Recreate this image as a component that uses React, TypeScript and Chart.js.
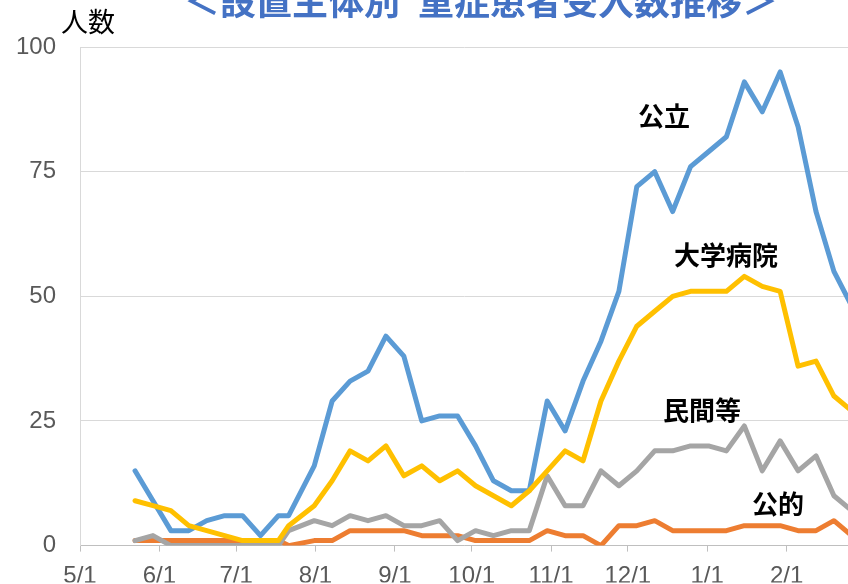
import { useEffect, useRef } from 'react';
import { Chart, registerables } from 'chart.js';

Chart.register(...registerables);

const TITLE = '＜設置主体別\u2002重症患者受入数推移＞';
const Y_UNIT = '人数';

// observation dates (weekly, with one extra mid-July report)
const dates = [
  '2020-05-22', '2020-05-29', '2020-06-05', '2020-06-12', '2020-06-19', '2020-06-26',
  '2020-07-03', '2020-07-10', '2020-07-17', '2020-07-21', '2020-07-31', '2020-08-07',
  '2020-08-14', '2020-08-21', '2020-08-28', '2020-09-04', '2020-09-11', '2020-09-18',
  '2020-09-25', '2020-10-02', '2020-10-09', '2020-10-16', '2020-10-23', '2020-10-30',
  '2020-11-06', '2020-11-13', '2020-11-20', '2020-11-27', '2020-12-04', '2020-12-11',
  '2020-12-18', '2020-12-25', '2021-01-01', '2021-01-08', '2021-01-15', '2021-01-22',
  '2021-01-29', '2021-02-05', '2021-02-12', '2021-02-19', '2021-02-26',
];

// 公立
const koritsu = [
  15, 9, 3, 3, 5, 6, 6, 2, 6, 6, 16, 29, 33, 35, 42, 38, 25, 26, 26, 20, 13,
  11, 11, 29, 23, 33, 41, 51, 72, 75, 67, 76, 79, 82, 93, 87, 95, 84, 67, 55, 48,
];
// 公的
const koteki = [
  1, 1, 1, 1, 1, 1, 1, 1, 1, 0, 1, 1, 3, 3, 3, 3, 2, 2, 2, 1, 1,
  1, 1, 3, 2, 2, 0, 4, 4, 5, 3, 3, 3, 3, 4, 4, 4, 3, 3, 5, 2,
];
// 民間等
const minkan = [
  1, 2, 0, 0, 0, 0, 0, 0, 0, 3, 5, 4, 6, 5, 6, 4, 4, 5, 1, 3, 2,
  3, 3, 14, 8, 8, 15, 12, 15, 19, 19, 20, 20, 19, 24, 15, 21, 15, 18, 10, 7,
];
// 大学病院
const daigaku = [
  9, 8, 7, 4, 3, 2, 1, 1, 1, 4, 8, 13, 19, 17, 20, 14, 16, 13, 15, 12, 10,
  8, 11, 15, 19, 17, 29, 37, 44, 47, 50, 51, 51, 51, 54, 52, 51, 36, 37, 30, 27,
];

const seriesNames = ['公立', '公的', '民間等', '大学病院'];

const monthTickDates = [
  '2020-05-01', '2020-06-01', '2020-07-01', '2020-08-01', '2020-09-01',
  '2020-10-01', '2020-11-01', '2020-12-01', '2021-01-01', '2021-02-01',
];
const monthTickLabels = ['5/1', '6/1', '7/1', '8/1', '9/1', '10/1', '11/1', '12/1', '1/1', '2/1'];
const axisStart = '2020-05-01';
const axisEnd = '2021-02-25';
const yMin = 0;
const yMax = 100;
const yStep = 25;

const ORIGIN = (() => {
  const [y, m, d] = axisStart.split('-').map(Number);
  return Date.UTC(y, m - 1, d);
})();
const dayOf = (s: string) => {
  const [y, m, d] = s.split('-').map(Number);
  return (Date.UTC(y, m - 1, d) - ORIGIN) / 86400000;
};

const tickDays = monthTickDates.map(dayOf);

const labelFont = "'Liberation Sans', Arial, sans-serif";
const cjkFont = "'Noto Sans CJK JP', sans-serif";

const textPlugin = {
  id: 'textPlugin',
  afterDraw(chart: any) {
    const ctx = chart.ctx;
    ctx.save();
    // title (partly above the canvas)
    ctx.fillStyle = '#4472C4';
    ctx.font = `bold 36px ${cjkFont}`;
    ctx.textAlign = 'center';
    ctx.textBaseline = 'alphabetic';
    ctx.fillText(TITLE, 481, 15);

    // unit label
    ctx.fillStyle = '#000000';
    ctx.font = `27px ${cjkFont}`;
    ctx.textBaseline = 'middle';
    ctx.fillText(Y_UNIT, 88, 22);

    // series labels
    ctx.font = `bold 26px ${cjkFont}`;
    const pos: Record<string, [number, number]> = {
      '公立': [664, 116],
      '大学病院': [726, 255],
      '民間等': [702, 410],
      '公的': [778, 504],
    };
    seriesNames.forEach((n) => {
      const p = pos[n];
      ctx.fillText(n, p[0], p[1]);
    });
    ctx.restore();
  },
};

const toPoints = (vals: number[]) => dates.map((d, i) => ({ x: dayOf(d) + 0.5, y: vals[i] }));

export default function App() {
  const ref = useRef<HTMLCanvasElement | null>(null);
  useEffect(() => {
    if (!ref.current) return;
    const common = {
      pointRadius: 0,
      borderWidth: 5,
      fill: false,
      tension: 0,
      borderJoinStyle: 'round' as const,
      borderCapStyle: 'round' as const,
    };
    const chart = new Chart(ref.current, {
      type: 'line',
      data: {
        datasets: [
          { ...common, label: seriesNames[0], data: toPoints(koritsu), borderColor: '#5B9BD5', backgroundColor: '#5B9BD5', order: 4 },
          { ...common, label: seriesNames[1], data: toPoints(koteki), borderColor: '#ED7D31', backgroundColor: '#ED7D31', order: 3 },
          { ...common, label: seriesNames[2], data: toPoints(minkan), borderColor: '#A5A5A5', backgroundColor: '#A5A5A5', order: 2 },
          { ...common, label: seriesNames[3], data: toPoints(daigaku), borderColor: '#FFC000', backgroundColor: '#FFC000', order: 1 },
        ],
      },
      options: {
        responsive: false,
        animation: false,
        devicePixelRatio: 1,
        layout: { padding: { top: 47, right: 0, bottom: 0, left: 0 } },
        plugins: {
          legend: { display: false },
          tooltip: { enabled: false },
          title: { display: false },
        },
        scales: {
          x: {
            type: 'linear',
            min: dayOf(axisStart),
            max: dayOf(axisEnd),
            afterBuildTicks: (scale: any) => {
              scale.ticks = tickDays.map((v) => ({ value: v }));
            },
            afterFit: (scale: any) => {
              scale.height = 37;
            },
            ticks: {
              autoSkip: false,
              maxRotation: 0,
              minRotation: 0,
              padding: 10,
              color: '#595959',
              font: { family: labelFont, size: 24 },
              callback: (v: any) => {
                const i = tickDays.indexOf(Number(v));
                return i >= 0 ? monthTickLabels[i] : '';
              },
            },
            grid: {
              drawOnChartArea: false,
              drawTicks: true,
              tickLength: 6,
              color: '#BFBFBF',
            },
            border: { display: true, color: '#BFBFBF', width: 1 },
          },
          y: {
            type: 'linear',
            min: yMin,
            max: yMax,
            afterFit: (scale: any) => {
              scale.width = 80;
            },
            ticks: {
              stepSize: yStep,
              padding: 24,
              color: '#595959',
              font: { family: labelFont, size: 24 },
            },
            grid: {
              drawTicks: false,
              color: '#D9D9D9',
              lineWidth: 1,
            },
            border: { display: true, color: '#D9D9D9', width: 1 },
          },
        },
      } as any,
      plugins: [textPlugin],
    });
    return () => chart.destroy();
  }, []);

  return (
    <div style={{ position: 'fixed', left: 0, top: 0, width: 848, height: 584, overflow: 'hidden', background: '#fff' }}>
      <canvas ref={ref} width={848} height={584} style={{ width: 848, height: 584, display: 'block' }} />
    </div>
  );
}
